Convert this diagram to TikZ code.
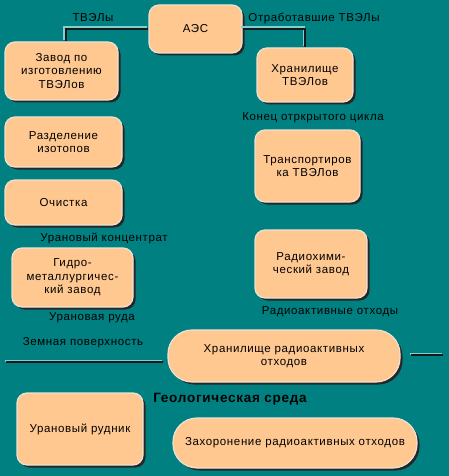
\documentclass[tikz,border=0pt]{standalone}
\usepackage{fontspec}
\setmainfont[LetterSpace=5.5]{Liberation Sans}
\usetikzlibrary{shadows}
\definecolor{teal0}{RGB}{0,128,128}
\definecolor{peach}{RGB}{255,200,145}
\definecolor{rim}{RGB}{236,226,214}
\definecolor{glow}{RGB}{128,208,208}

\begin{document}
\begin{tikzpicture}[
    x=1pt, y=-1pt,
    box/.style={rectangle, rounded corners=10pt, fill=peach, draw=rim, line width=1.2pt, align=center,
        font=\fontsize{11.5}{13.5}\selectfont,
        drop shadow={shadow xshift=2.5pt, shadow yshift=-2.5pt, opacity=1, fill=black!85}},
    pill/.style={box, rounded corners=24pt},
    lbl/.style={font=\fontsize{11.5}{13.5}\selectfont, inner sep=0pt},
    wire/.style={line width=2pt, black!90, preaction={draw=glow, line width=2pt, transform canvas={shift={(-1.5pt,1.5pt)}}}}
]
    \fill[teal0] (0,0) rectangle (449,476);

    \node[box, minimum width=93pt, minimum height=48pt] (aes) at (195.5,29) {АЭС};
    \node[box, minimum width=113pt, minimum height=58pt] (zavod) at (61.5,71) {Завод по\\изготовлению\\ТВЭЛов};
    \node[box, minimum width=96pt, minimum height=54pt] (hran) at (305,75) {Хранилище\\ТВЭЛов};
    \node[box, minimum width=117pt, minimum height=50pt] (razd) at (63.5,142) {Разделение\\изотопов};
    \node[box, minimum width=117pt, minimum height=45pt] (ochist) at (63.5,202.5) {Очистка};
    \node[box, minimum width=105pt, minimum height=72pt] (transp) at (307.5,166) {Транспортиров\\ка ТВЭЛов};
    \node[box, minimum width=112pt, minimum height=68pt] (radio) at (311,264) {Радиохими-\\ческий завод};
    \node[box, minimum width=121pt, minimum height=59pt] (gidro) at (72.5,277.5) {Гидро-\\металлургичес-\\кий завод};
    \node[pill, minimum width=232pt, minimum height=52pt] (hranrao) at (284,356) {Хранилище радиоактивных\\отходов};
    \node[box, minimum width=126pt, minimum height=72pt] (rudnik) at (80,429) {Урановый рудник};
    \node[pill, minimum width=244pt, minimum height=50pt] (zahor) at (295,443) {Захоронение радиоактивных отходов};

    \node[lbl] (tvel) at (93,18) {ТВЭЛы};
    \node[lbl] (otrab) at (314,18) {Отработавшие ТВЭЛы};
    \node[lbl] (konec) at (313,118) {Конец отркрытого цикла};
    \node[lbl] (konc) at (104,238) {Урановый концентрат};
    \node[lbl] (ruda) at (92,318) {Урановая руда};
    \node[lbl] (otx) at (330,312) {Радиоактивные отходы};
    \node[lbl] (zemn) at (83,343) {Земная поверхность};
    \node[lbl, font=\fontsize{13.5}{15}\selectfont\bfseries] (geo) at (230,399) {Геологическая среда};

    % connectors
    \draw[wire] (aes.west) -| ([xshift=4pt]zavod.north);
    \draw[wire] (aes.east) -| (hran.north);

    % ground surface
    \coordinate (surfA) at (6,362);
    \coordinate (surfB) at (163,362);
    \coordinate (surfC) at (411,355);
    \coordinate (surfD) at (443,355);
    \draw[wire] (surfA) -- (surfB);
    \draw[wire] (surfC) -- (surfD);
\end{tikzpicture}
\end{document}
